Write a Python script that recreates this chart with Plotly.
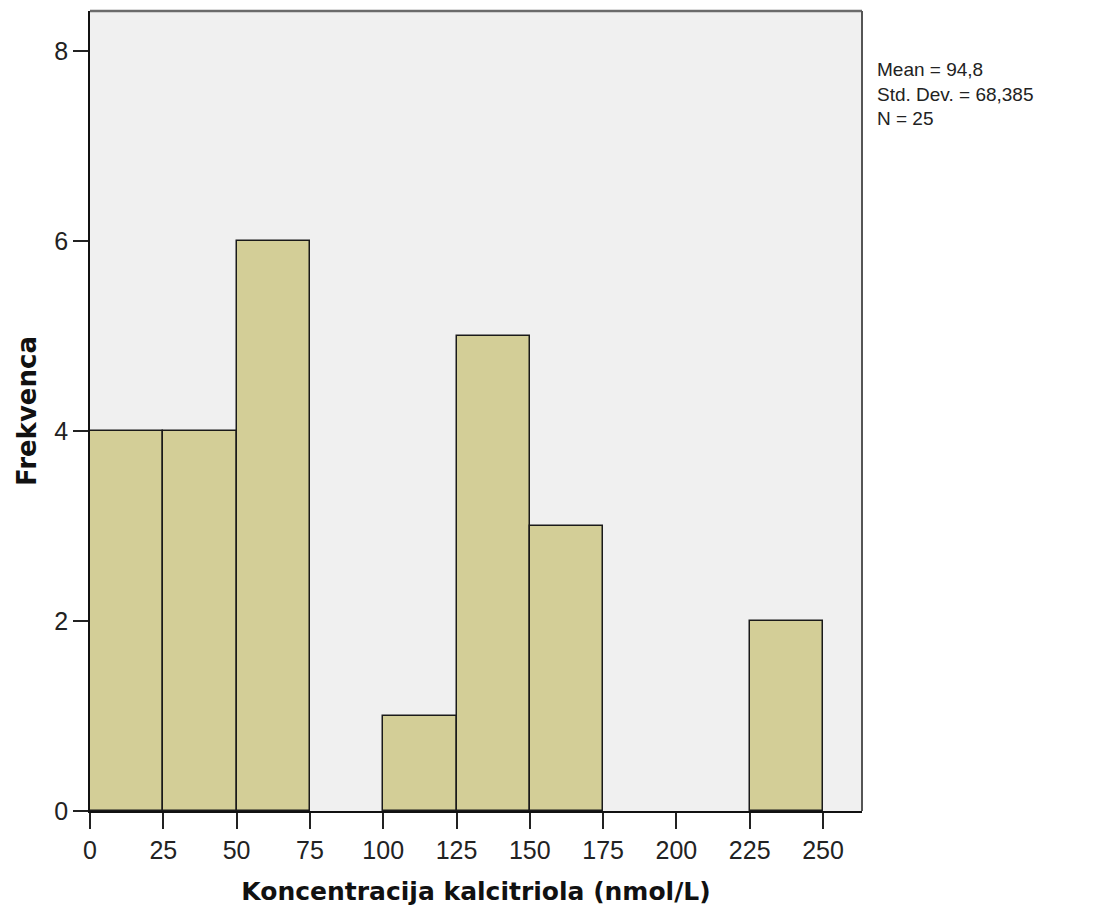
import plotly.graph_objects as go

# Histogram of calcitriol concentration, bins of 25 nmol/L
bin_starts = [0, 25, 50, 75, 100, 125, 150, 175, 200, 225]
counts = [4, 4, 6, 0, 1, 5, 3, 0, 0, 2]
bin_width = 25
x_ticks = [0, 25, 50, 75, 100, 125, 150, 175, 200, 225, 250]
y_ticks = [0, 2, 4, 6, 8]
stats_lines = ["Mean = 94,8", "Std. Dev. = 68,385", "N = 25"]

# empty bins get no outline so the baseline stays a single thin line
outline_widths = [1.5 if c > 0 else 0 for c in counts]

fig = go.Figure()
fig.add_trace(go.Bar(
    x=bin_starts,
    y=counts,
    width=[bin_width] * len(bin_starts),
    offset=0,
    marker=dict(color="#D3CE97", line=dict(color="#1a1a1a", width=outline_widths)),
    hoverinfo="x+y",
))

tick_font = dict(family="Liberation Sans Narrow, Arial Narrow, Liberation Sans, Arial, sans-serif",
                 size=25, color="#222")
title_family = "DejaVu Sans, Liberation Sans, Arial, sans-serif"

fig.update_layout(
    width=1107, height=914,
    margin=dict(l=90, r=245, t=11, b=103),
    paper_bgcolor="white",
    plot_bgcolor="#F0F0F0",
    showlegend=False,
    bargap=0,
    xaxis=dict(
        range=[0, 263.3],
        tickvals=x_ticks,
        ticks="outside", ticklen=16, tickwidth=1.5, tickcolor="#222",
        tickfont=tick_font,
        showgrid=False, zeroline=False,
        showline=True, linecolor="#111", linewidth=1.5,
        title=dict(text="<b>Koncentracija kalcitriola (nmol/L)</b>",
                   font=dict(family=title_family, size=25, color="#111"),
                   standoff=20),
    ),
    yaxis=dict(
        range=[0, 8.42],
        tickvals=y_ticks,
        ticks="outside", ticklen=15, tickwidth=1.5, tickcolor="#222",
        tickfont=tick_font,
        showgrid=False, zeroline=False,
        showline=True, linecolor="#111", linewidth=1.5,
        title=dict(text="<b>Frekvenca</b>",
                   font=dict(family=title_family, size=26, color="#111"),
                   standoff=10),
    ),
    shapes=[
        # top and right frame edges
        dict(type="line", xref="paper", yref="paper", x0=0, x1=1, y0=1, y1=1,
             line=dict(color="#6b6b6b", width=2.5)),
        dict(type="line", xref="paper", yref="paper", x0=1, x1=1, y0=0, y1=1,
             line=dict(color="#555", width=2)),
    ],
    annotations=[
        dict(text="<br>".join(stats_lines), xref="paper", yref="paper",
             x=1.017, y=0.942, xanchor="left", yanchor="top", align="left",
             showarrow=False,
             font=dict(family="Liberation Sans, Arial, sans-serif", size=19, color="#222")),
    ],
)

fig.write_html("out.html")
